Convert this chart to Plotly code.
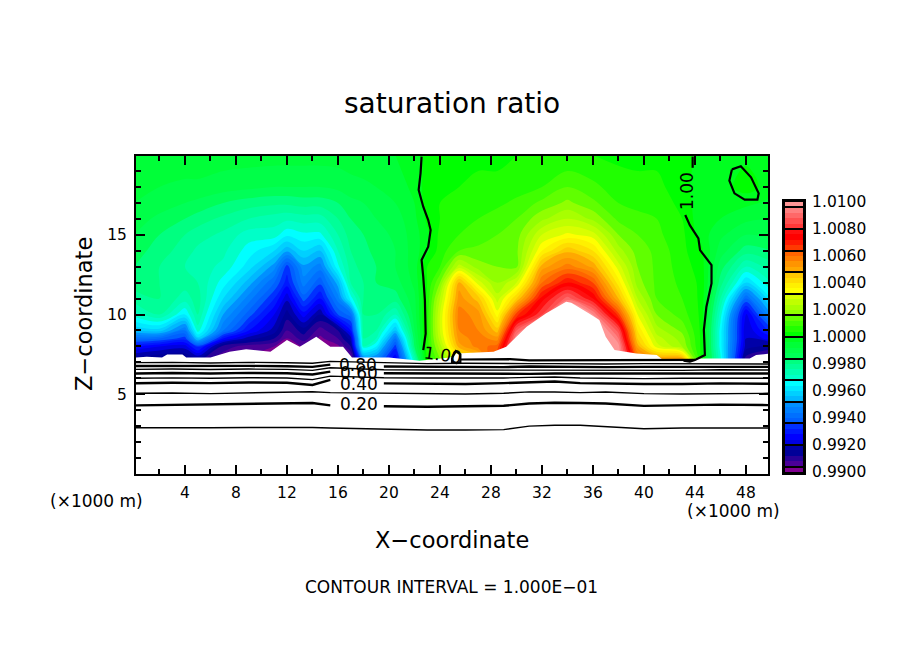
import numpy as np
import plotly.graph_objects as go

# saturation ratio field, (S - 1) * 1e4, one list per x position (km)
z_levels = [7, 8, 8.5, 9, 10, 11, 12, 13, 14, 15, 16, 17, 18, 20]
x_cols = [0, 2, 4, 5, 7, 9, 11, 12, 13.3, 14.6, 16, 17, 18, 19, 20.5, 22, 23, 24, 25.5, 27,
          28.5, 30, 32, 34, 36, 38, 39.5, 41, 43, 44.5, 46, 48, 50]
col_00 = [-90, -72, -58, -44, -30, -22, -18, -16, -14, -12, -10, -8, -7, -5]
col_02 = [-92, -76, -60, -42, -24, -20, -20, -20, -18, -16, -13, -10, -8, -5]
col_04 = [-92, -78, -66, -56, -36, -26, -22, -24, -22, -20, -16, -12, -9, -5]
col_05 = [-90, -66, -42, -30, -24, -22, -24, -26, -25, -22, -18, -13, -9, -5]
col_07 = [-96, -90, -72, -56, -48, -40, -34, -29, -27, -25, -21, -16, -10, -6]
col_09 = [-98, -94, -82, -72, -62, -54, -46, -38, -34, -30, -24, -18, -11, -6]
col_11 = [-100, -96, -88, -82, -76, -68, -60, -50, -40, -30, -26, -19, -12, -6]
col_12 = [-110, -100, -96, -92, -86, -79, -70, -66, -47, -35, -27, -19, -12, -6]
col_13 = [-100, -96, -90, -86, -74, -62, -54, -49, -40, -33, -26, -18, -12, -6]
col_14 = [-110, -104, -97, -94, -84, -72, -63, -54, -44, -33, -26, -18, -12, -6]
col_16 = [-110, -97, -92, -88, -64, -54, -46, -33, -28, -24, -20, -16, -11, -6]
col_17 = [-100, -88, -82, -72, -58, -34, -24, -22, -20, -18, -16, -13, -10, -5]
col_18 = [-60, -28, -24, -22, -20, -20, -20, -18, -17, -16, -14, -12, -9, -5]
col_19 = [-58, -36, -28, -24, -20, -18, -16, -16, -15, -14, -12, -10, -8, -5]
col_20 = [-78, -66, -56, -44, -28, -18, -14, -12, -12, -11, -10, -8, -6, -4]
col_22 = [-30, -16, -14, -12, -10, -9, -7, -6, -6, -6, -5, -4, -3, -2]
col_23 = [5, 6, 6, 6, 6, 5, 4, 4, -1, -1, 1, 2, 2, 1]
col_24 = [14, 22, 26, 28, 28, 24, 16, 8, 6, 5, 4, 4, 3, 2]
col_25 = [30, 50, 54, 56, 58, 54, 50, 26, 12, 8, 6, 5, 4, 3]
col_27 = [40, 58, 58, 56, 54, 46, 30, 18, 13, 10, 8, 6, 5, 3]
col_28 = [70, 62, 54, 46, 34, 26, 20, 16, 14, 12, 10, 7, 5, 3]
col_30 = [110, 100, 96, 88, 66, 44, 28, 15, 15, 14, 12, 9, 6, 4]
col_32 = [120, 120, 120, 110, 84, 74, 60, 50, 36, 28, 19, 13, 8, 5]
col_34 = [120, 120, 120, 120, 112, 90, 72, 58, 47, 33, 24, 17, 12, 4]
col_36 = [120, 120, 120, 110, 96, 76, 64, 51, 40, 30, 19, 13, 9, 4]
col_38 = [100, 98, 92, 86, 66, 48, 38, 30, 22, 16, 11, 8, 6, 3]
col_39 = [66, 50, 44, 40, 32, 24, 18, 16, 14, 12, 9, 7, 5, 3]
col_41 = [60, 30, 26, 22, 16, 12, 11, 11, 11, 9, 8, 6, 5, 3]
col_43 = [60, 20, 18, 15, 10, 8, 7, 6, 5, 5, 4, 3, 2, 2]
col_44 = [3, 3, 3, 3, 3, 3, 3, 2, 1, -2, -3, -3, -3, -1]
col_46 = [-30, -34, -34, -34, -30, -24, -18, -14, -10, -7, -4, -3, -2, -1]
col_48 = [-92, -82, -80, -80, -78, -60, -40, -28, -18, -12, -7, -3, 2, -1]
col_50 = [-96, -86, -74, -66, -48, -36, -28, -22, -16, -10, -8, -5, -2, -1]
columns = [col_00, col_02, col_04, col_05, col_07, col_09, col_11, col_12, col_13, col_14, col_16,
           col_17, col_18, col_19, col_20, col_22, col_23, col_24, col_25, col_27, col_28, col_30,
           col_32, col_34, col_36, col_38, col_39, col_41, col_43, col_44, col_46, col_48, col_50]
sat = 1 + np.array(columns).T * 1e-4

# lower edge of the coloured region (white below it)
edge_x = [0, 1, 2.2, 2.6, 3.8, 4.1, 6, 7.5, 8.8, 10.7, 12, 13, 14.3, 15.4, 16.4, 17.1, 20, 22.4, 24.8,
          25.3, 28.2, 29.2, 30.8, 32.3, 33.9, 34.3, 35.7, 36.5, 37, 37.7, 39.4, 41, 41.5, 43.1, 43.6,
          44.1, 48.3, 48.8, 50]
edge_z = [7.3, 7.35, 7.3, 7.5, 7.5, 7.3, 7.3, 7.67, 7.83, 7.67, 8.4, 7.98, 8.6, 7.98, 7.98, 7.31, 7.3, 7.1, 7.3,
          7.55, 7.67, 7.98, 9.23, 10.07, 10.8, 10.74, 10.07, 9.65, 8.6, 7.77, 7.56, 7.46, 7.15, 7.2, 7.1,
          7.25, 7.25, 7.46, 7.56]

# contour lines of the lower part
line_x = [0, 3, 6, 9, 12, 14, 15.4, 19.6, 23, 26, 29, 31, 33, 35, 37, 40, 43, 46, 50]
lev_10 = [2.90, 2.88, 2.90, 2.92, 2.94, 2.92, 2.88, 2.80, 2.76, 2.76, 2.78, 3.00, 3.06, 3.06, 2.96, 2.84, 2.88, 2.88, 2.88]
lev_20 = [4.30, 4.33, 4.35, 4.40, 4.45, 4.45, 4.30, 4.25, 4.22, 4.25, 4.28, 4.42, 4.47, 4.45, 4.42, 4.27, 4.32, 4.35, 4.32]
lev_30 = [5.06, 5.08, 5.04, 5.10, 5.14, 5.16, 5.10, 5.08, 5.04, 5.02, 5.06, 5.15, 5.14, 5.10, 5.14, 5.04, 5.02, 5.04, 5.06]
lev_40 = [5.69, 5.72, 5.70, 5.74, 5.72, 5.58, 5.90, 5.68, 5.66, 5.64, 5.70, 5.74, 5.80, 5.70, 5.66, 5.64, 5.64, 5.68, 5.66]
lev_50 = [6.00, 6.03, 6.00, 6.04, 6.02, 5.92, 6.14, 6.04, 6.02, 6.00, 6.02, 6.06, 6.08, 6.02, 6.00, 5.98, 6.00, 6.02, 6.00]
lev_60 = [6.30, 6.33, 6.30, 6.34, 6.32, 6.24, 6.42, 6.32, 6.30, 6.30, 6.30, 6.28, 6.30, 6.30, 6.26, 6.30, 6.28, 6.30, 6.30]
lev_70 = [6.56, 6.58, 6.55, 6.58, 6.56, 6.50, 6.66, 6.54, 6.52, 6.52, 6.50, 6.52, 6.50, 6.52, 6.48, 6.52, 6.50, 6.54, 6.52]
lev_80 = [6.77, 6.78, 6.76, 6.78, 6.76, 6.72, 6.86, 6.74, 6.72, 6.74, 6.70, 6.74, 6.72, 6.72, 6.70, 6.72, 6.72, 6.74, 6.72]
lev_90 = [6.98, 7.00, 6.96, 7.00, 6.98, 6.94, 7.06, 6.96, 6.92, 6.94, 6.90, 6.92, 6.92, 6.90, 6.90, 6.92, 6.92, 6.94, 6.90]
lev_100_x = [25.6, 27.1, 29.5, 31, 34, 37, 41.5, 44]
lev_100_z = [7.18, 7.2, 7.2, 7.12, 7.12, 7.12, 7.14, 7.15]

# the 1.00 contour above the terrain
left_100_x = [22.56, 22.48, 22.33, 22.69, 23.08, 23.27, 23.08, 22.56, 22.69, 22.82, 22.88, 22.69]
left_100_z = [19.9, 18.87, 17.81, 16.76, 15.92, 15.30, 14.25, 13.42, 12.37, 10.9, 8.8, 7.77]
right_top_x = [43.82, 43.82]
right_top_z = [19.9, 19.2]
right_100_x = [43.24, 43.6, 44.27, 44.4, 45.3, 45.3, 44.9, 44.7, 44.78, 44.0, 43.6, 43.1]
right_100_z = [16.24, 15.6, 14.78, 14.04, 13.1, 11.95, 10.49, 9.03, 7.46, 7.15, 7.05, 7.1]
loop_x = [46.9, 47.6, 48.4, 49.0, 48.9, 47.9, 47.1, 46.7, 46.9]
loop_z = [19.1, 19.3, 18.6, 17.6, 17.2, 17.2, 17.6, 18.4, 19.1]
small_x = [24.95, 25.25, 25.6, 25.6, 25.3, 24.95, 24.95]
small_z = [7.3, 7.7, 7.5, 7.0, 6.95, 7.0, 7.3]

# colour bar
bar_colors = ["#800090",
              "#4a0098", "#280098", "#000098", "#0000a8",
              "#0000e0", "#0000ff", "#0018ff", "#0030ff",
              "#0060ff", "#0070ff", "#0080ff", "#0090ff",
              "#00b8ff", "#00d0ff", "#00e8ff", "#00ffff",
              "#00ffc8", "#00ffb0", "#00ff98", "#00ff80",
              "#00ff58", "#00ff48", "#00ff38", "#00ff20",
              "#00ff00", "#20ff00", "#40ff00", "#60ff00",
              "#90ff00", "#a8ff00", "#c0ff00", "#d8ff00",
              "#ffff00", "#fff000", "#ffdc00", "#ffc800",
              "#ffa800", "#ff9400", "#ff7c00", "#ff6400",
              "#ff3a00", "#ff1a00", "#ff0000", "#ff1010",
              "#ff3838", "#ff5050", "#ff6868", "#ff8080",
              "#ff9696"]
bar_labels = [0.99, 0.992, 0.994, 0.996, 0.998, 1.0, 1.002, 1.004, 1.006, 1.008, 1.01]
n = len(bar_colors)
step = 0.02 / n
bar_edges = [0.99 + i * step for i in range(n + 1)]
bar_mids = [0.99 + (i + 0.5) * step for i in range(n)]
bar_seps = [0.99 + (1 + 4 * i) * step for i in range(13)]
scale = [[0, bar_colors[0]]] + [[(i + 0.5) / n, c] for i, c in enumerate(bar_colors)] + [[1, bar_colors[-1]]]

W, H = 904, 654
FONT = "DejaVu Sans"

fig = go.Figure()
fig.add_trace(go.Contour(x=x_cols, y=z_levels, z=sat, colorscale=scale, zmin=0.99, zmax=1.01,
                         contours=dict(start=0.99, end=1.01, size=step, coloring="fill"),
                         line=dict(width=0, smoothing=1), showscale=False, hoverinfo="skip"))
fig.add_trace(go.Scatter(x=edge_x, y=edge_z, mode="lines", fill="tozeroy", fillcolor="white",
                         line=dict(width=0, color="white")))

for lev, thick in [(lev_10, False), (lev_30, False), (lev_50, False), (lev_70, False), (lev_90, False),
                   (lev_20, True), (lev_40, True), (lev_60, True), (lev_80, True)]:
    xs, ys = list(line_x), list(lev)
    if thick:
        # gap for the labels
        xs.insert(7, None)
        ys.insert(7, None)
    fig.add_trace(go.Scatter(x=xs, y=ys, mode="lines", line=dict(color="black", width=2.4 if thick else 1.4)))

for xs, ys in [(lev_100_x, lev_100_z), (left_100_x, left_100_z), (right_top_x, right_top_z),
               (right_100_x, right_100_z), (loop_x, loop_z), (small_x, small_z)]:
    fig.add_trace(go.Scatter(x=xs, y=ys, mode="lines", line=dict(color="black", width=2.2)))

fig.add_trace(go.Heatmap(x=[0, 1], y=bar_edges, z=[[v] for v in bar_mids], colorscale=scale, zmin=0.99, zmax=1.01,
                         showscale=False, xaxis="x2", yaxis="y2", hoverinfo="skip"))

axis = dict(showline=True, linecolor="black", linewidth=2, mirror="allticks", ticks="inside", showgrid=False,
            zeroline=False, tickcolor="black", tickwidth=2, ticklen=9, tickfont=dict(family=FONT, size=15.5, color="black"))
fig.update_layout(
    width=W, height=H, margin=dict(l=0, r=0, t=0, b=0, autoexpand=False), showlegend=False,
    paper_bgcolor="white", plot_bgcolor="white",
    xaxis=dict(axis, domain=[136 / W, 768 / W], range=[0.16, 49.73], tickmode="linear", tick0=0, dtick=4,
               ticklabelstandoff=3,
               minor=dict(tick0=0, dtick=2, ticks="inside", ticklen=5, tickwidth=1.5, tickcolor="black", showgrid=False)),
    yaxis=dict(axis, domain=[1 - 474 / H, 1 - 156 / H], range=[0, 19.94], tickmode="array", tickvals=[5, 10, 15],
               ticklabelstandoff=4,
               minor=dict(tick0=0, dtick=1, ticks="inside", ticklen=5, tickwidth=1.5, tickcolor="black", showgrid=False)),
    xaxis2=dict(domain=[785 / W, 803 / W], range=[0, 1], anchor="y2", showticklabels=False, ticks="", showgrid=False,
                zeroline=False, showline=True, linecolor="black", linewidth=3, mirror=True),
    yaxis2=dict(domain=[1 - 472 / H, 1 - 202 / H], range=[0.99, 1.01], anchor="x2", side="right", showgrid=False,
                zeroline=False, showline=True, linecolor="black", linewidth=3, mirror=True,
                tickmode="array", tickvals=bar_labels, tickformat=".4f", ticks="", ticklabelstandoff=3,
                tickfont=dict(family=FONT, size=15.5, color="black"),
                minor=dict(tickmode="array", tickvals=bar_seps, ticks="inside", ticklen=18, tickwidth=2,
                           tickcolor="black", showgrid=False)),
)


def label(text, px, py, size=15.5, angle=0, bg=None):
    fig.add_annotation(text=text, x=px / W, y=1 - py / H, xref="paper", yref="paper", showarrow=False,
                       xanchor="center", yanchor="middle", textangle=angle, bgcolor=bg,
                       font=dict(family=FONT, size=size, color="black"))


label("saturation ratio", 452, 104, size=28)
label("X\u2212coordinate", 452, 540, size=22.5)
label("Z\u2212coordinate", 84, 314, size=22.5, angle=-90)
label("CONTOUR INTERVAL = 1.000E\u221201", 451, 587, size=17)
label("(\u00d71000 m)", 96, 501, size=17)
label("(\u00d71000 m)", 733, 511, size=17)
label("0.20", 359, 404, size=17)
label("0.40", 359, 384, size=17)
label("0.60", 359, 373, size=17)
label("0.80", 358, 365, size=17)
label("1.00", 443, 355, size=17, angle=8)
label("1.00", 687, 191, size=17, angle=-90)

# drop the default page margin so the figure sits at the window corner
fig.write_html("out.html", post_script="document.body.style.margin='0';", config={"displayModeBar": False})
